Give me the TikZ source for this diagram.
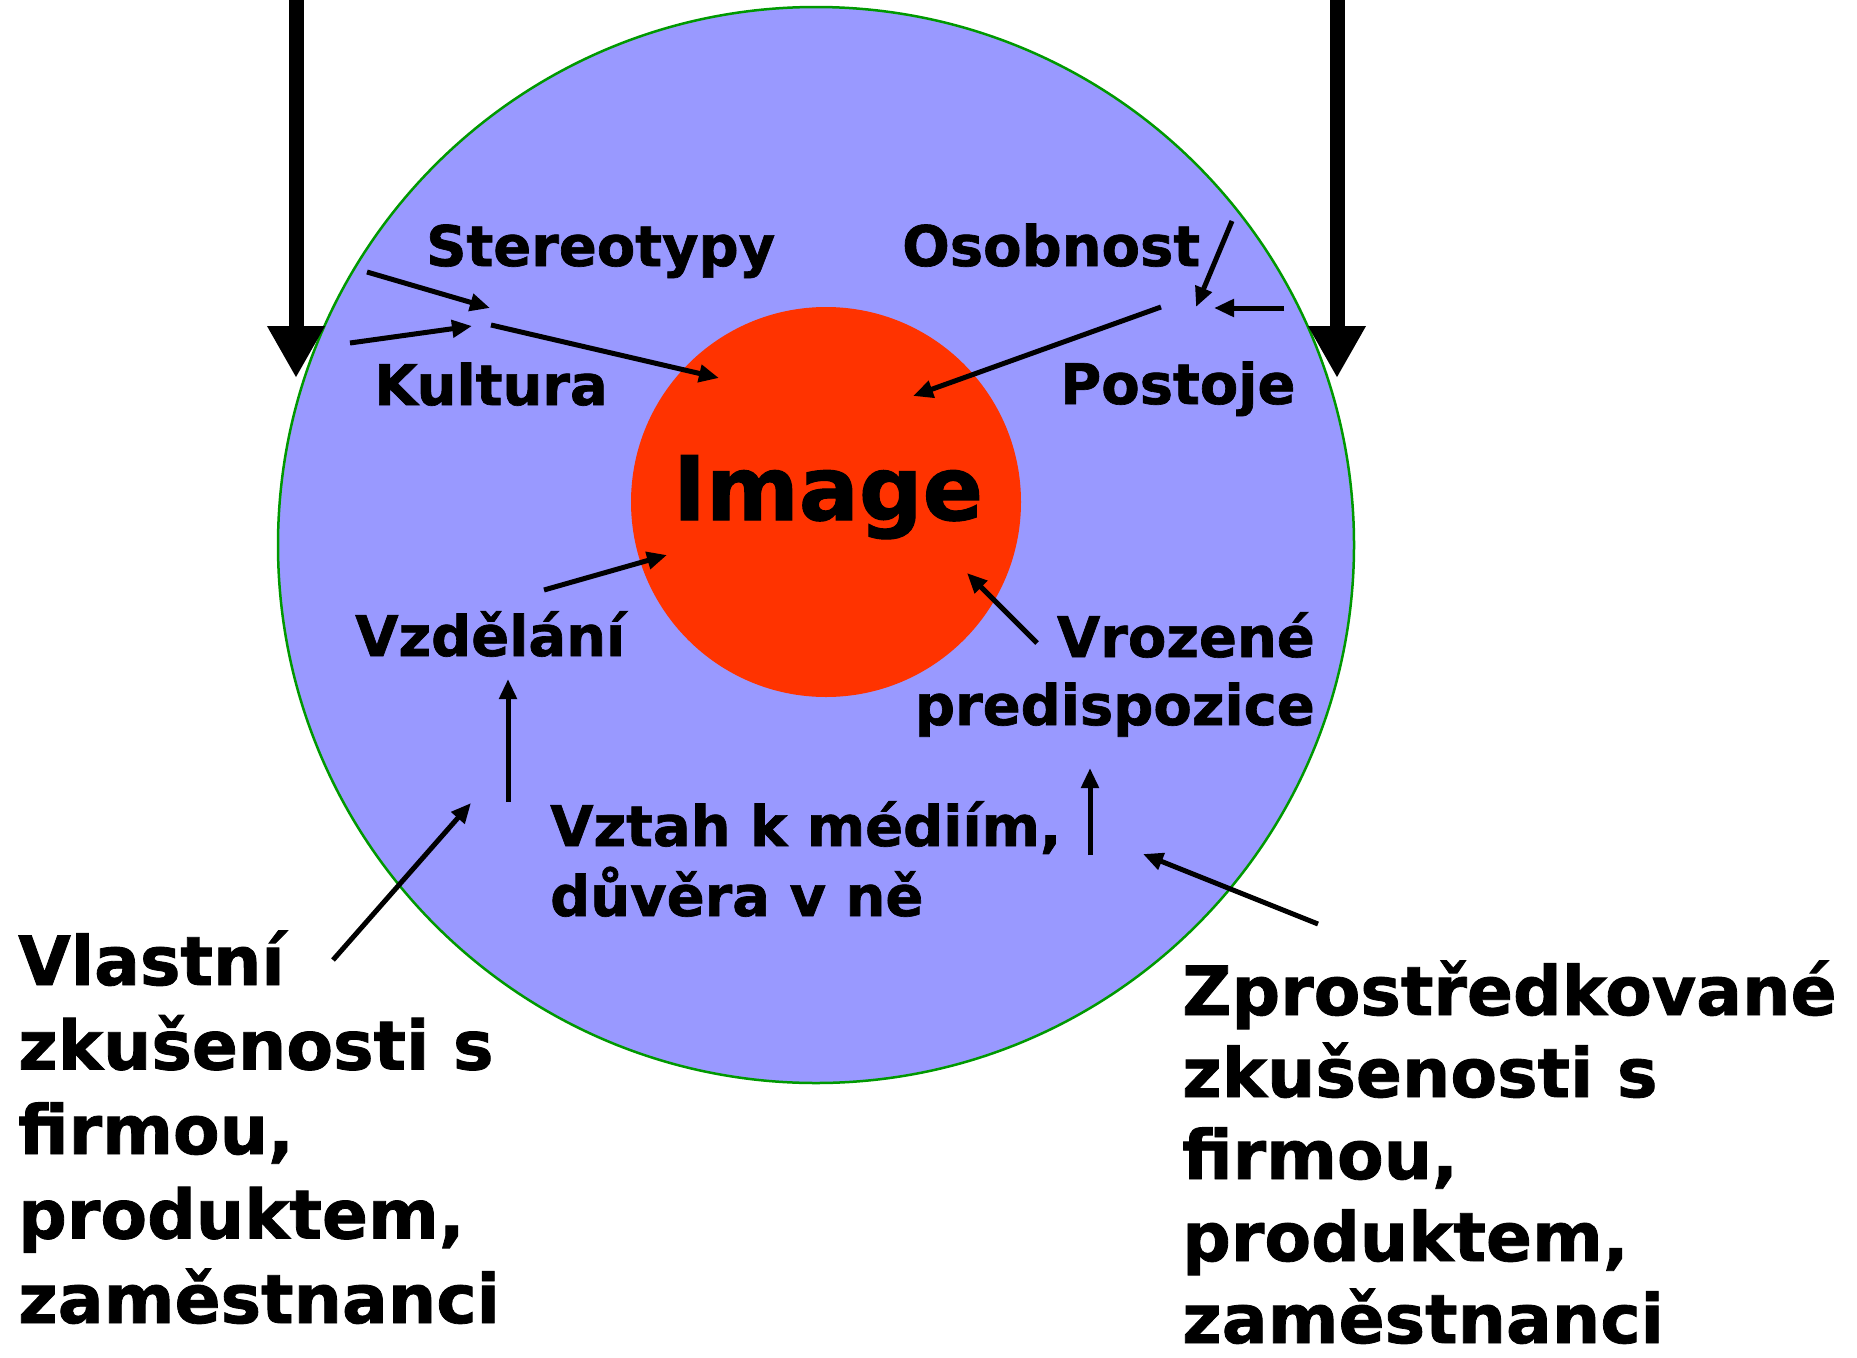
\documentclass[tikz,border=0pt]{standalone}
\usepackage{fontspec}
\setmainfont{DejaVu Sans}[BoldFeatures={FakeBold=1.2}]
\usetikzlibrary{arrows.meta}
\definecolor{outerblue}{RGB}{153,153,255}
\definecolor{innerred}{RGB}{255,51,0}
\definecolor{rimgreen}{RGB}{0,153,0}
\begin{document}
\begin{tikzpicture}[x=1pt,y=-1pt,
  lbl/.style={font=\fontsize{56}{68}\selectfont\bfseries, inner sep=0pt},
  lbltwo/.style={font=\fontsize{56}{70}\selectfont\bfseries, inner sep=0pt},
  biglbl/.style={font=\fontsize{68}{84.5}\selectfont\bfseries, inner sep=0pt, align=left},
  smallarrow/.style={line width=5pt, -{Triangle[length=20pt,width=17pt]}},
  bigarrow/.style={line width=15pt, -{Triangle[length=52pt,width=54pt]}}]
\useasboundingbox (0,0) rectangle (1857,1357);
% circles
\node[circle, fill=outerblue, draw=rimgreen, line width=2.5pt, minimum size=1076pt, inner sep=0pt] (outer) at (816,545) {};
\node[circle, fill=innerred, minimum size=390pt, inner sep=0pt] (inner) at (826,502) {};
\node[anchor=base, inner sep=0pt, font=\fontsize{89}{100}\selectfont\bfseries] (image) at (828,520) {Image};
% thick arrows from top
\coordinate (lsrc) at (296,-10); \coordinate (ltip) at (296,378);
\coordinate (rsrc) at (1337,-10); \coordinate (rtip) at (1337,378);
\draw[bigarrow] (lsrc) -- (ltip);
\draw[bigarrow] (rsrc) -- (rtip);
% labels (base anchor of a multi-line node = baseline of its last line)
\node[lbl, anchor=base west] (stereo) at (426,266) {Stereotypy};
\node[lbl, anchor=base west] (osob) at (902,266) {Osobnost};
\node[lbl, anchor=base west] (kult) at (374,405) {Kultura};
\node[lbl, anchor=base west] (post) at (1060,404) {Postoje};
\node[lbl, anchor=base west] (vzdel) at (355,656) {Vzdělání};
\node[lbl, anchor=base east, align=right] (vroz) at (1315,725) {Vrozené\\predispozice};
\node[lbltwo, anchor=base west, align=left] (media) at (550,916) {Vztah k médiím,\\důvěra v ně};
\node[biglbl, anchor=base west] (vlast) at (18,1323) {Vlastní\\zkušenosti s\\firmou,\\produktem,\\zaměstnanci};
\node[biglbl, font=\fontsize{68}{82}\selectfont\bfseries, anchor=base west] (zpro) at (1182,1343) {Zprostředkované\\zkušenosti s\\firmou,\\produktem,\\zaměstnanci};
% arrow end points
\coordinate (a1s) at (367,272);  \coordinate (a1e) at (490,308);
\coordinate (a2s) at (350,343);  \coordinate (a2e) at (472,326);
\coordinate (a3s) at (491,325);  \coordinate (a3e) at (719,378);
\coordinate (a4s) at (1232,221); \coordinate (a4e) at (1196,307);
\coordinate (a5s) at (1284,308); \coordinate (a5e) at (1214,308);
\coordinate (a6s) at (1161,307); \coordinate (a6e) at (913,396);
\coordinate (a7s) at (544,590);  \coordinate (a7e) at (667,555);
\coordinate (a8s) at (1037,643); \coordinate (a8e) at (967,573);
\coordinate (a9s) at (508,802);  \coordinate (a9e) at (508,679);
\coordinate (a10s) at (333,960); \coordinate (a10e) at (471,803);
\coordinate (a11s) at (1090,855); \coordinate (a11e) at (1090,768);
\coordinate (a12s) at (1318,924); \coordinate (a12e) at (1143,854);
\foreach \i in {1,...,12} {\draw[smallarrow] (a\i s) -- (a\i e);}
\end{tikzpicture}
\end{document}
